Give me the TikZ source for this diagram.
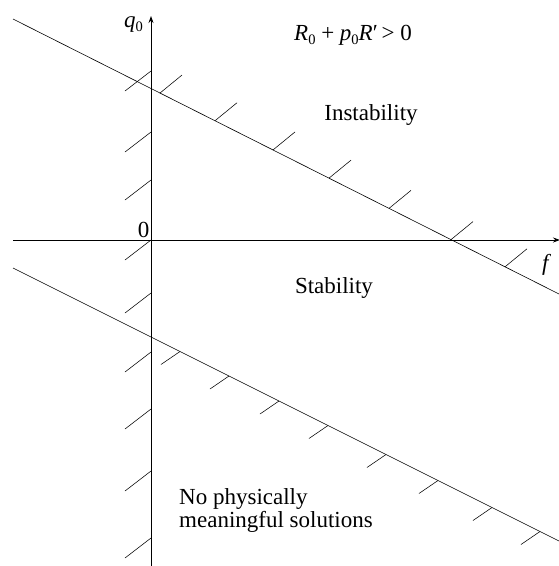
\documentclass[tikz,border=0pt]{standalone}
\usepackage{fontspec}
\setmainfont{Liberation Serif}
\usetikzlibrary{arrows.meta}
\newcommand\sbz[1]{\raisebox{-0.45ex}{\fontsize{14.5}{14.5}\selectfont #1}}
\begin{document}
\begin{tikzpicture}[x=1pt,y=-1pt,
  axis/.style={line width=0.9pt,-{Stealth[length=7pt,width=5pt]}},
  bound/.style={line width=0.6pt},
  hatch/.style={line width=0.55pt},
  lbl/.style={inner sep=0pt,font=\fontsize{23}{24}\selectfont}]
\useasboundingbox (0,0) rectangle (559,566);
\clip (0,0) rectangle (559,566);
% axes
\coordinate (vb) at (151,566);
\coordinate (vt) at (151,16);
\coordinate (hl) at (13,240);
\coordinate (hr) at (560,240);
\draw[axis] (hl) -- (hr);
\draw[axis] (vb) -- (vt);
% boundary lines
\coordinate (U1) at (13,19);
\coordinate (U2) at (559,294);
\coordinate (L1) at (13,268);
\coordinate (L2) at (559,541);
\draw[bound] (U1) -- (U2);
\draw[bound] (L1) -- (L2);
% hatches on vertical axis
\foreach \y in {71,132,180,240,293,352,409,471,538}
  \draw[hatch] (151,\y) -- ++(-26,20);
% hatches on upper line
\foreach \x in {160,215,273,329,389,451,505}{
  \pgfmathsetmacro\yy{19+275/546*(\x-13)}
  \draw[hatch] (\x,\yy) -- ++(22,-18);
}
% hatches on lower line
\foreach \x in {180,229,279,328,386,438,492,540}{
  \pgfmathsetmacro\yy{268+273/546*(\x-13)}
  \draw[hatch] (\x,\yy) -- ++(-19,13);
}
% labels
\node[lbl,anchor=base west] (q) at (124,27) {\itshape q\upshape\sbz{0}};
\node[lbl,anchor=base west] (cond) at (294,40) {\itshape R\upshape\sbz{0} + \itshape p\upshape\sbz{0}\itshape R\upshape\symbol{"2032}\,> 0};
\node[lbl,anchor=base] (inst) at (371,120) {Instability};
\node[lbl,anchor=base] (zero) at (143.5,237) {0};
\node[lbl,anchor=base] (stab) at (334,293) {Stability};
\node[lbl,anchor=base west] (f) at (542,270) {\itshape f};
\node[lbl,anchor=base west] (np1) at (179,504) {No physically};
\node[lbl,anchor=base west] (np2) at (179,527) {meaningful solutions};
\end{tikzpicture}
\end{document}
